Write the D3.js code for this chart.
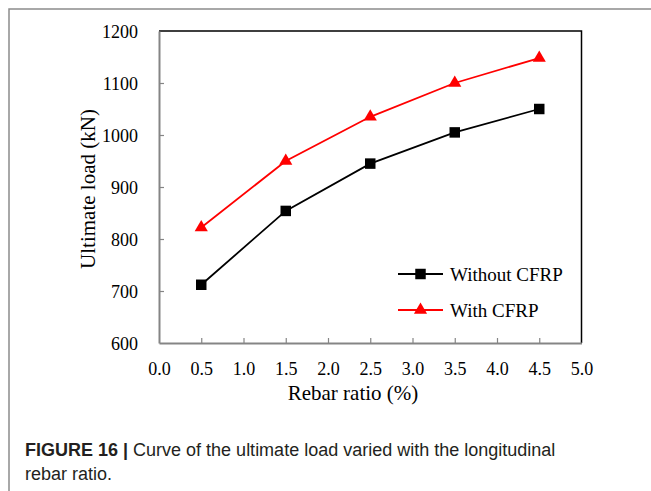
<!DOCTYPE html>
<html>
<head>
<meta charset="utf-8">
<script src="https://cdn.jsdelivr.net/npm/d3@7"></script>
<style>
  body { margin: 0; background: #fff; }
  svg { display: block; }
</style>
</head>
<body>
<div id="chart"></div>
<script>
// Données
const rebarRatio = [0.5, 1.5, 2.5, 3.5, 4.5];
const withoutCFRP = [712, 854, 945, 1005, 1050];
const withCFRP = [822, 950, 1035, 1100, 1148];
const seriesNames = ["Without CFRP", "With CFRP"];
const xTicks = [0, 0.5, 1, 1.5, 2, 2.5, 3, 3.5, 4, 4.5, 5];
const yTicks = [600, 700, 800, 900, 1000, 1100, 1200];

const W = 651, H = 491;
const plot = { left: 159, top: 31, right: 581.5, bottom: 343 };

const svg = d3.select('#chart')
    .append('svg')
    .attr('width', W)
    .attr('height', H);

// cadre extérieur (gris)
svg.append('path')
    .attr('d', `M 9 ${H} V 9 H ${W}`)
    .attr('fill', 'none')
    .attr('stroke', '#8c8c8c')
    .attr('stroke-width', 1.5);

const x = d3.scaleLinear().domain([0, 5]).range([plot.left, plot.right]);
const y = d3.scaleLinear().domain([600, 1200]).range([plot.bottom, plot.top]);

const serif = '"Liberation Serif", "Times New Roman", serif';

// bordure haut / droite en noir
svg.append('path')
    .attr('d', `M ${plot.left} ${plot.top} H ${plot.right} V ${plot.bottom}`)
    .attr('fill', 'none')
    .attr('stroke', '#000')
    .attr('stroke-width', 1.5);

// Axe X
const gx = svg.append('g')
    .attr('transform', `translate(0,${plot.bottom})`)
    .call(d3.axisBottom(x).tickValues(xTicks).tickFormat(d3.format('.1f'))
        .tickSizeInner(-5).tickSizeOuter(0).tickPadding(19));

// Axe Y
const gy = svg.append('g')
    .attr('transform', `translate(${plot.left},0)`)
    .call(d3.axisLeft(y).tickValues(yTicks).tickFormat(d3.format('d'))
        .tickSizeInner(-5).tickSizeOuter(0).tickPadding(21));

[gx, gy].forEach(g => {
    g.select('.domain').attr('stroke', '#858585').attr('stroke-width', 2);
    g.selectAll('.tick line').attr('stroke', '#858585').attr('stroke-width', 1.2);
    g.selectAll('.tick text')
        .attr('fill', '#000')
        .style('font-family', serif)
        .style('font-size', '18px');
});
// pas de trait sur les extrémités
gx.selectAll('.tick').filter(d => d === 0 || d === 5).select('line').remove();
gy.selectAll('.tick').filter(d => d === 600 || d === 1200).select('line').remove();
gy.selectAll('.tick text').attr('dy', '0.34em');

// Titres des axes
svg.append('text')
    .attr('x', 353)
    .attr('y', 400)
    .attr('text-anchor', 'middle')
    .style('font-family', serif)
    .style('font-size', '21px')
    .text('Rebar ratio (%)');

svg.append('text')
    .attr('transform', 'translate(95,189) rotate(-90)')
    .attr('text-anchor', 'middle')
    .style('font-family', serif)
    .style('font-size', '21px')
    .text('Ultimate load (kN)');

// Courbes
const line = d3.line()
    .x((d, i) => x(rebarRatio[i]))
    .y(d => y(d));

const series = [
    { name: seriesNames[0], values: withoutCFRP, color: '#000', symbol: d3.symbolSquare, size: 110 },
    { name: seriesNames[1], values: withCFRP, color: '#ff0000', symbol: d3.symbolTriangle, size: 75 }
];

series.forEach(s => {
    svg.append('path')
        .datum(s.values)
        .attr('d', line)
        .attr('fill', 'none')
        .attr('stroke', s.color)
        .attr('stroke-width', 1.8);

    svg.append('g')
        .selectAll('path')
        .data(s.values)
        .join('path')
        .attr('transform', (d, i) => `translate(${x(rebarRatio[i])},${y(d)})`)
        .attr('d', d3.symbol().type(s.symbol).size(s.size))
        .attr('fill', s.color);
});

// Légende
const legend = svg.append('g').attr('transform', 'translate(398,274)');
series.forEach((s, i) => {
    const row = legend.append('g').attr('transform', `translate(0,${i * 36})`);
    row.append('line')
        .attr('x1', 0).attr('x2', 45)
        .attr('stroke', s.color)
        .attr('stroke-width', 1.8);
    row.append('path')
        .attr('transform', 'translate(22.5,0)')
        .attr('d', d3.symbol().type(s.symbol).size(s.size))
        .attr('fill', s.color);
    row.append('text')
        .attr('x', 52)
        .attr('dy', '0.35em')
        .style('font-family', serif)
        .style('font-size', '19px')
        .text(s.name);
});

// Légende de la figure
const caption = svg.append('text')
    .attr('x', 25)
    .attr('y', 456)
    .attr('fill', '#231f20')
    .style('font-family', '"Liberation Sans", Arial, sans-serif')
    .style('font-size', '18px');
caption.append('tspan').style('font-weight', 'bold').text('FIGURE 16 | ');
caption.append('tspan').text('Curve of the ultimate load varied with the longitudinal');
svg.append('text')
    .attr('x', 25)
    .attr('y', 480)
    .attr('fill', '#231f20')
    .style('font-family', '"Liberation Sans", Arial, sans-serif')
    .style('font-size', '18px')
    .text('rebar ratio.');
</script>
</body>
</html>
